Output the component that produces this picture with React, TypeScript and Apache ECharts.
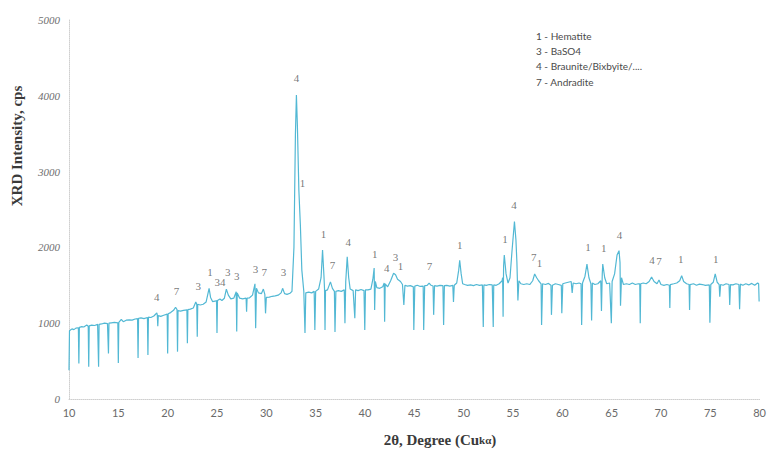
import React, { useEffect, useRef } from "react";
import * as echarts from "echarts";

// 2θ (degree) / intensity (cps) pairs
const scan10to20: [number, number][] = [
  [10.0, 380], [10.05, 900], [10.3, 925], [10.5, 915], [10.7, 935], [10.95, 940], [11.0, 470], [11.05, 945],
  [11.3, 955], [11.5, 950], [11.8, 975], [11.95, 960], [12.0, 425], [12.05, 965], [12.3, 975], [12.6, 970],
  [12.9, 985], [12.95, 985], [13.0, 425], [13.05, 985], [13.3, 990], [13.6, 1000], [13.9, 995], [13.95, 1000],
  [14.0, 600], [14.05, 1000], [14.3, 1005], [14.6, 1010], [14.95, 1005], [15.0, 475], [15.05, 1010], [15.3, 1050],
  [15.5, 1020], [15.8, 1040], [16.1, 1045], [16.4, 1040], [16.7, 1055], [16.95, 1060], [17.0, 540], [17.05, 1065],
  [17.3, 1070], [17.6, 1060], [17.95, 1075], [18.0, 580], [18.05, 1080], [18.3, 1075], [18.6, 1095], [18.9, 1135],
  [18.95, 1110], [19.0, 960], [19.05, 1100], [19.3, 1090], [19.6, 1105], [19.95, 1120], [20.0, 600], [20.05, 1125],
];
const scan20to30: [number, number][] = [
  [20.3, 1140], [20.6, 1170], [20.8, 1210], [20.95, 1180], [21.0, 625], [21.05, 1165], [21.3, 1160], [21.6, 1170],
  [21.95, 1175], [22.0, 735], [22.05, 1180], [22.3, 1185], [22.6, 1200], [22.85, 1280], [22.95, 1250], [23.0, 820],
  [23.05, 1250], [23.3, 1240], [23.6, 1250], [23.9, 1280], [24.1, 1400], [24.2, 1460], [24.35, 1340], [24.55, 1285],
  [24.8, 1290], [24.95, 1300], [25.0, 870], [25.05, 1300], [25.3, 1320], [25.5, 1300], [25.75, 1330], [25.95, 1450],
  [26.15, 1370], [26.4, 1320], [26.7, 1330], [26.95, 1415], [27.0, 890], [27.05, 1400], [27.3, 1330], [27.6, 1320],
  [27.95, 1330], [28.0, 1150], [28.05, 1330], [28.3, 1335], [28.6, 1370], [28.85, 1520], [28.92, 935], [29.0, 1460],
  [29.2, 1400], [29.5, 1390], [29.7, 1450], [29.85, 1380], [29.92, 1130], [30.0, 1340],
];
const scan30to40: [number, number][] = [
  [30.3, 1345], [30.6, 1355], [30.9, 1360], [31.2, 1370], [31.5, 1400], [31.65, 1460], [31.85, 1390], [32.1, 1380],
  [32.4, 1395], [32.6, 1420], [32.8, 2000], [32.95, 3500], [33.05, 4010], [33.15, 3600], [33.3, 2750], [33.45, 2300],
  [33.6, 1700], [33.8, 1420], [33.92, 870], [34.0, 1400], [34.3, 1410], [34.6, 1400], [34.85, 1420], [34.92, 910],
  [35.0, 1420], [35.3, 1450], [35.55, 1600], [35.7, 1965], [35.85, 1600], [35.9, 1450], [35.95, 910], [36.0, 1430],
  [36.2, 1440], [36.5, 1545], [36.7, 1460], [36.9, 1420], [36.96, 885], [37.05, 1420], [37.3, 1430], [37.6, 1420],
  [37.9, 1440], [37.97, 1000], [38.05, 1550], [38.2, 1875], [38.35, 1600], [38.5, 1450], [38.8, 1430], [38.97, 1065],
  [39.05, 1440], [39.3, 1430], [39.6, 1445], [39.9, 1430], [39.98, 910], [40.05, 1440],
];
const scan40to50: [number, number][] = [
  [40.3, 1440], [40.6, 1450], [40.8, 1580], [40.93, 1728], [40.98, 1175], [41.05, 1550], [41.2, 1470], [41.5, 1460],
  [41.8, 1480], [41.95, 1530], [41.99, 1020], [42.05, 1520], [42.3, 1480], [42.6, 1560], [42.9, 1660], [43.1, 1640],
  [43.3, 1580], [43.6, 1550], [43.8, 1510], [43.94, 1240], [44.05, 1500], [44.3, 1490], [44.6, 1495], [44.9, 1480],
  [44.95, 910], [45.05, 1490], [45.3, 1500], [45.6, 1485], [45.9, 1490], [45.95, 910], [46.05, 1495], [46.3, 1500],
  [46.5, 1530], [46.7, 1500], [46.9, 1490], [46.96, 1110], [47.05, 1495], [47.3, 1490], [47.6, 1500], [47.9, 1495],
  [47.97, 975], [48.05, 1495], [48.3, 1500], [48.6, 1490], [48.9, 1500], [48.97, 1280], [49.05, 1500], [49.3, 1530],
  [49.5, 1700], [49.6, 1830], [49.75, 1650], [49.9, 1520], [50.1, 1510],
];
const scan50to60: [number, number][] = [
  [50.4, 1500], [50.7, 1505], [51.0, 1495], [51.3, 1510], [51.6, 1500], [51.9, 1505], [51.99, 950], [52.05, 1505],
  [52.3, 1500], [52.6, 1510], [52.9, 1505], [53.0, 950], [53.05, 1505], [53.3, 1500], [53.6, 1520], [53.9, 1560],
  [53.95, 1600], [54.0, 1085], [54.05, 1750], [54.12, 1900], [54.3, 1650], [54.5, 1530], [54.7, 1600], [54.9, 1950],
  [55.15, 2340], [55.3, 2100], [55.4, 1800], [55.5, 1300], [55.6, 1560], [55.8, 1520], [56.1, 1510], [56.4, 1520],
  [56.7, 1510], [57.0, 1560], [57.2, 1650], [57.4, 1600], [57.6, 1560], [57.85, 1520], [57.9, 975], [58.0, 1520],
  [58.3, 1510], [58.6, 1525], [58.85, 1500], [58.9, 1110], [59.0, 1500], [59.3, 1520], [59.6, 1510], [59.9, 1500],
  [59.95, 1130], [60.05, 1520],
];
const scan60to70: [number, number][] = [
  [60.3, 1530], [60.6, 1540], [60.9, 1550], [61.0, 1400], [61.1, 1530], [61.4, 1520], [61.7, 1530], [61.9, 1520],
  [61.96, 975], [62.05, 1530], [62.3, 1620], [62.5, 1780], [62.7, 1600], [62.9, 1520], [62.97, 1035], [63.05, 1530],
  [63.3, 1510], [63.6, 1520], [63.9, 1560], [63.97, 1160], [64.05, 1650], [64.1, 1780], [64.3, 1600], [64.5, 1520],
  [64.8, 1530], [64.97, 1000], [65.05, 1550], [65.3, 1650], [65.55, 1900], [65.75, 1957], [65.85, 1800], [65.9, 1230],
  [66.0, 1600], [66.2, 1510], [66.5, 1520], [66.8, 1510], [67.1, 1530], [67.4, 1510], [67.7, 1520], [67.85, 1520],
  [67.9, 1000], [67.95, 1520], [68.2, 1530], [68.5, 1520], [68.8, 1550], [69.05, 1610], [69.3, 1550], [69.6, 1520],
  [69.8, 1570], [70.0, 1510],
];
const scan70to80: [number, number][] = [
  [70.3, 1500], [70.6, 1510], [70.85, 1500], [70.9, 1200], [70.95, 1510], [71.3, 1520], [71.6, 1530], [71.9, 1560],
  [72.1, 1627], [72.3, 1550], [72.6, 1520], [72.85, 1510], [72.9, 1175], [72.95, 1510], [73.3, 1520], [73.6, 1500],
  [73.9, 1515], [74.2, 1510], [74.5, 1500], [74.9, 1505], [74.96, 1005], [75.05, 1510], [75.3, 1540], [75.5, 1650],
  [75.7, 1540], [75.9, 1510], [75.96, 1350], [76.05, 1510], [76.3, 1500], [76.6, 1520], [76.9, 1510], [76.97, 1240],
  [77.05, 1510], [77.3, 1505], [77.6, 1520], [77.9, 1510], [77.97, 1185], [78.05, 1515], [78.3, 1500], [78.6, 1520],
  [78.9, 1505], [79.2, 1525], [79.5, 1500], [79.8, 1530], [79.9, 1520], [79.95, 1285], [80.0, 1285],
];

// phase labels placed above the peaks
const peakLabelX = [18.9, 20.9, 23.1, 24.3, 25.3, 26.1, 27.0, 28.9, 29.8, 31.75, 33.06, 33.67, 35.8, 36.7, 38.3,
  41.0, 42.2, 43.1, 43.6, 46.55, 49.6, 54.2, 55.1, 57.1, 57.7, 62.6, 64.2, 65.8, 69.1, 69.8, 72.0, 75.55];
const peakLabelY = [1345, 1425, 1490, 1675, 1545, 1675, 1620, 1715, 1675, 1675, 4235, 2850, 2175, 1770, 2070,
  1910, 1730, 1875, 1755, 1755, 2030, 2110, 2560, 1875, 1800, 2000, 1990, 2165, 1835, 1825, 1845, 1845];
const peakLabelText = ["4", "7", "3", "1", "34", "3", "3", "3", "7", "3", "4", "1", "1", "7", "4",
  "1", "4", "3", "1", "7", "1", "1", "4", "7", "1", "1", "1", "4", "4", "7", "1", "1"];

const legendLines = ["1 - Hematite", "3 - BaSO4", "4 - Braunite/Bixbyite/....", "7 - Andradite"];

export default function App() {
  const ref = useRef<HTMLDivElement>(null);
  useEffect(() => {
    document.body.style.margin = "0";
    const chart = echarts.init(ref.current!, null, { renderer: "svg" });
    const scan = [...scan10to20, ...scan20to30, ...scan30to40, ...scan40to50, ...scan50to60, ...scan60to70, ...scan70to80];
    const labels = peakLabelX.map((x, i) => [x, peakLabelY[i], peakLabelText[i]]);
    chart.setOption({
      animation: false,
      backgroundColor: "#ffffff",
      grid: { left: 69, right: 5, top: 20, bottom: 54 },
      xAxis: {
        type: "value", min: 10, max: 80, interval: 5,
        axisLine: { show: true, lineStyle: { color: "#cfcfcf", type: "dotted", width: 1 } },
        axisTick: { show: false },
        splitLine: { show: false },
        axisLabel: { color: "#6a6a6a", fontFamily: "Lato", fontSize: 11, margin: 8 },
      },
      yAxis: {
        type: "value", min: 0, max: 5000, interval: 1000,
        axisLine: { show: true, lineStyle: { color: "#cfcfcf", type: "dotted", width: 1 } },
        axisTick: { show: false },
        splitLine: { show: false },
        axisLabel: {
          color: "#6f6f6f", fontFamily: "Liberation Serif", fontStyle: "italic", fontSize: 11, margin: 9,
          formatter: (v: number) => String(v),
        },
      },
      series: [
        {
          type: "line",
          data: scan,
          showSymbol: false,
          lineStyle: { color: "#52b8d4", width: 1.2 },
          z: 2,
        },
        {
          type: "scatter",
          data: labels,
          symbolSize: 0,
          itemStyle: { color: "transparent" },
          label: {
            show: true,
            position: "inside",
            formatter: (p: any) => p.value[2],
            color: "#555555",
            textBorderWidth: 0,
            fontFamily: "Liberation Serif",
            fontSize: 11,
          },
          emphasis: { disabled: true },
          z: 3,
        },
      ],
      graphic: [
        {
          type: "text",
          x: 17, y: 146, rotation: Math.PI / 2,
          style: {
            text: "XRD Intensity, cps",
            font: "bold 15px 'Liberation Serif'",
            fill: "#3a3a3a",
            align: "center",
            verticalAlign: "middle",
          },
        },
        {
          type: "text",
          x: 440, y: 440,
          style: {
            text: "{a|2θ, Degree (Cu}{b|kα}{a|)}",
            rich: {
              a: { font: "bold 15px 'Liberation Serif'", fill: "#3a3a3a" },
              b: { font: "bold 11px 'Liberation Serif'", fill: "#3a3a3a" },
            },
            align: "center",
            verticalAlign: "middle",
          },
        },
        ...legendLines.map((t, i) => ({
          type: "text",
          x: 536, y: 36 + i * 15.2,
          style: {
            text: t,
            font: "10px Lato",
            fill: "#4a4a4a",
            align: "left",
            verticalAlign: "middle",
          },
        })),
      ],
    });
    return () => chart.dispose();
  }, []);
  return <div ref={ref} style={{ width: 769, height: 453 }} />;
}
